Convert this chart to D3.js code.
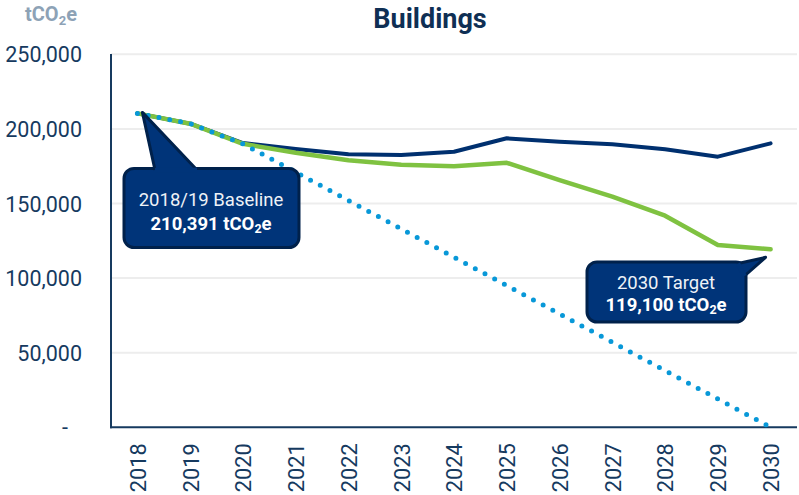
<!DOCTYPE html>
<html><head><meta charset="utf-8">
<script src="https://cdn.jsdelivr.net/npm/d3@7"></script>
<style>
html,body{margin:0;padding:0;background:#fff;}
svg{display:block;font-family:Roboto, "Noto Sans", sans-serif;}
</style></head>
<body>
<svg id="chart" width="799" height="495"></svg>
<script>
const years = ["2018","2019","2020","2021","2022","2023","2024","2025","2026","2027","2028","2029","2030"];
const businessAsUsual = [210391, 203500, 190500, 186500, 183000, 182500, 184700, 193700, 191400, 189700, 186300, 181400, 190300];
const plannedPath = [210391, 203500, 190000, 184000, 179000, 176000, 175000, 177300, 165700, 154600, 141800, 122200, 119300];
const netZeroYears = ["2018","2019","2020","2030"];
const netZeroValues = [210391, 203500, 190000, 0];
const yTicks = [0, 50000, 100000, 150000, 200000, 250000];
const title = "Buildings";

const svg = d3.select("#chart");

const x = d3.scalePoint().domain(years).range([111 + 26.4, 797 - 26.4]);
const y = d3.scaleLinear().domain([0, 250000]).range([427.3, 54.3]);

// gridlines
svg.append("g").selectAll("line").data(yTicks.filter(d=>d>0)).join("line")
  .attr("x1", 111).attr("x2", 797)
  .attr("y1", d=>y(d)).attr("y2", d=>y(d))
  .attr("stroke", "#ededed").attr("stroke-width", 2);

// y axis labels
const yAxis = d3.axisLeft(y).tickValues(yTicks).tickSize(0).tickPadding(29)
  .tickFormat(d => d === 0 ? "-" : d3.format(",")(d));
const gy = svg.append("g").attr("transform", "translate(111,0)").call(yAxis);
gy.select(".domain").remove();
gy.selectAll("text").attr("fill", "#163a5f").style("font-size", "21.5px")
  .style("font-family", "Roboto, sans-serif").attr("dy", "0.35em");
gy.selectAll(".tick").filter(d=>d===0).select("text").attr("dx", -14);

// x axis labels
const xAxis = d3.axisBottom(x).tickSize(0).tickPadding(0);
const gx = svg.append("g").attr("transform", "translate(0,427.3)").call(xAxis);
gx.select(".domain").remove();
gx.selectAll("text")
  .attr("transform", "rotate(-90)")
  .attr("text-anchor", "end")
  .attr("x", -16).attr("y", 0).attr("dy", "0.36em")
  .attr("fill", "#163a5f").style("font-size", "21.8px")
  .style("font-family", "Roboto, sans-serif");

// axis lines
svg.append("line").attr("x1", 111).attr("x2", 111).attr("y1", 54).attr("y2", 428.3)
  .attr("stroke", "#163a5f").attr("stroke-width", 2);
svg.append("line").attr("x1", 110).attr("x2", 797).attr("y1", 427.3).attr("y2", 427.3)
  .attr("stroke", "#163a5f").attr("stroke-width", 2);

const line = d3.line().x(d=>x(d[0])).y(d=>y(d[1]));

svg.append("path").datum(years.map((yr,i)=>[yr, businessAsUsual[i]]))
  .attr("d", line).attr("fill", "none").attr("stroke", "#00306f")
  .attr("stroke-width", 4).attr("stroke-linejoin", "round").attr("stroke-linecap", "round");

svg.append("path").datum(years.map((yr,i)=>[yr, plannedPath[i]]))
  .attr("d", line).attr("fill", "none").attr("stroke", "#7fc241")
  .attr("stroke-width", 4.5).attr("stroke-linejoin", "round").attr("stroke-linecap", "round");

svg.append("path").datum(netZeroYears.map((yr,i)=>[yr, netZeroValues[i]]))
  .attr("d", line).attr("fill", "none").attr("stroke", "#0898d8")
  .attr("stroke-width", 5).attr("stroke-dasharray", "0,11").attr("stroke-linecap", "round");

// title
svg.append("text").attr("x", 430).attr("y", 28).attr("text-anchor", "middle")
  .attr("fill", "#0f2f54").style("font-size", "27px").style("font-weight", "bold")
  .text(title);

// unit label
const unit = svg.append("text").attr("x", 25).attr("y", 21)
  .attr("fill", "#8da2b6").style("font-size", "20px").style("font-weight", "bold");
unit.append("tspan").text("tCO");
unit.append("tspan").attr("dy", 4).style("font-size", "13px").text("2");
unit.append("tspan").attr("dy", -4).text("e");

// callouts
function callout(box, tipPts, line1, line2, cx, by1, by2) {
  const g = svg.append("g");
  const r = 10;
  const [x0, y0, x1, y1] = box;
  g.append("rect").attr("x", x0).attr("y", y0).attr("width", x1-x0).attr("height", y1-y0)
    .attr("rx", r).attr("fill", "#003479").attr("stroke", "#00214b").attr("stroke-width", 3);
  g.append("path").attr("d", "M" + tipPts.map(p=>p.join(",")).join("L"))
    .attr("fill", "#003479").attr("stroke", "#00214b").attr("stroke-width", 3)
    .attr("stroke-linejoin", "round");
  const seam = tipPts;
  g.append("path").attr("d", "M" + [seam[0], seam[seam.length-1]].map(p=>p.join(",")).join("L"))
    .attr("stroke", "#003479").attr("stroke-width", 4.5).attr("fill", "none");
  g.append("text").attr("x", cx).attr("y", by1).attr("text-anchor", "middle")
    .attr("fill", "#eef2f7").style("font-size", "18.5px").text(line1);
  const t = g.append("text").attr("x", cx).attr("y", by2).attr("text-anchor", "middle")
    .attr("fill", "#ffffff").style("font-size", "18.5px").style("font-weight", "bold");
  t.append("tspan").text(line2[0] + "tCO");
  t.append("tspan").attr("dy", 3).style("font-size", "12.5px").text("2");
  t.append("tspan").attr("dy", -3).text("e");
}

const bx = x("2018"), bY = y(businessAsUsual[0]);
callout([124, 168.5, 299, 247.5], [[155, 170], [bx + 5, bY - 1], [197, 170]],
  "2018/19 Baseline", ["210,391 "], 211, 206, 230);

const tx = x("2030"), tY = y(plannedPath[12]);
callout([587, 262, 746, 322], [[738, 263.5], [tx - 5, tY + 8], [744.5, 276]],
  "2030 Target", ["119,100 "], 666, 289, 311);
</script>
</body></html>
